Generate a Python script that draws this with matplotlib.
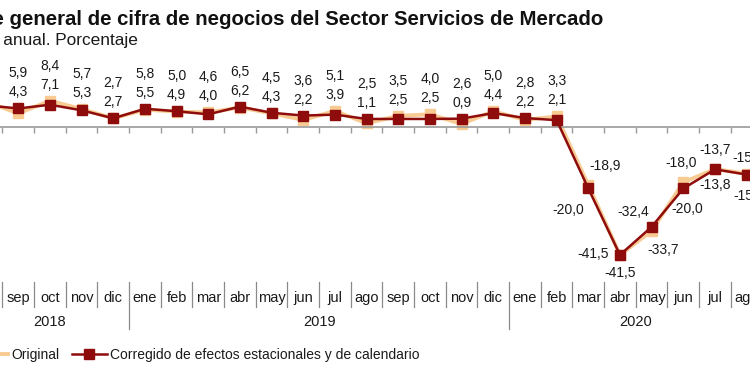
import numpy as np
import matplotlib
matplotlib.use("Agg")
import matplotlib.pyplot as plt
import matplotlib.transforms as mtransforms
from matplotlib.lines import Line2D

plt.rcParams['font.family'] = ['Liberation Sans', 'DejaVu Sans']

# ago 2018 .. ago 2020
months = ['ago', 'sep', 'oct', 'nov', 'dic',
          'ene', 'feb', 'mar', 'abr', 'may', 'jun', 'jul', 'ago', 'sep', 'oct', 'nov', 'dic',
          'ene', 'feb', 'mar', 'abr', 'may', 'jun', 'jul', 'ago']
years = [2018] * 5 + [2019] * 12 + [2020] * 8

original = [8.0, 4.3, 8.4, 5.7, 2.7,
            5.5, 4.9, 4.6, 6.2, 4.3, 2.2, 5.1, 1.1, 3.5, 4.0, 0.9, 5.0,
            2.2, 3.3, -18.9, -41.5, -33.7, -18.0, -13.7, -15.2]
corregido = [6.9, 5.9, 7.1, 5.3, 2.7,
             5.8, 5.0, 4.0, 6.5, 4.5, 3.6, 3.9, 2.5, 2.5, 2.5, 2.6, 4.4,
             2.8, 2.1, -20.0, -41.5, -32.4, -20.0, -13.8, -15.5]

C_RED = '#8E0C0C'
C_ORA = '#F8CB92'
TXT = '#1a1a1a'
W, H = 750, 375

fig = plt.figure(figsize=(7.5, 3.75), dpi=100)

# axes placed so that the series runs off both edges, like the cropped original
x_left, x_right = -29.2, 762.5      # pixel position of x = -0.5 and 24.5
y_top, y_bot = 89.6, 281.2          # pixel position of y = 12 and -50
ax = fig.add_axes([x_left / W, 1 - y_bot / H, (x_right - x_left) / W, (y_bot - y_top) / H])
ax.set_xlim(-0.5, len(months) - 0.5)
ax.set_ylim(-50, 12)

x = np.arange(len(months))
ax.plot(x, original, color=C_ORA, lw=2.8, marker='s', ms=7.5, mfc=C_ORA, mec=C_ORA,
        zorder=2, clip_on=False)
ax.plot(x, corregido, color=C_RED, lw=1.8, marker='s', ms=7, mfc=C_RED, mec=C_RED,
        zorder=3, clip_on=False)

for s in ['top', 'right', 'left']:
    ax.spines[s].set_visible(False)
ax.spines['bottom'].set_position(('data', 0))
ax.spines['bottom'].set_color('#9a9a9a')
ax.spines['bottom'].set_linewidth(1.2)
ax.set_xticks(np.arange(-0.5, len(months), 1.0))
ax.tick_params(axis='x', direction='out', length=4, width=1, color='#9a9a9a', labelbottom=False)
ax.set_yticks([])


def fmt(v):
    return f"{v:.1f}".replace('.', ',')


lbl = dict(fontsize=10, color=TXT, ha='center', va='center', textcoords='offset pixels',
           annotation_clip=False)

# stacked labels above the points, sep 2018 .. feb 2020 (ago 2018 lies off the picture)
for i in range(1, 19):
    hi = max(original[i], corregido[i])
    vals = sorted([original[i], corregido[i]])
    ax.annotate(fmt(vals[0]), (i, hi), xytext=(0, 16), **lbl)
    ax.annotate(fmt(vals[1]), (i, hi), xytext=(0, 35), **lbl)

# label offsets (pixels) for the 2020 drop: (original, corregido)
offsets = {
    19: ((17, 19), (-20, -22)),
    20: ((0, -18), (-27, 1)),
    21: ((12, -19), (-18, 15)),
    22: ((-2, 19), (4, -21)),
    23: ((0, 19), (0, -16)),
    24: ((2, 16), (2, -21)),
}
for i, (oo, oc) in offsets.items():
    ax.annotate(fmt(original[i]), (i, original[i]), xytext=oo, **lbl)
    ax.annotate(fmt(corregido[i]), (i, corregido[i]), xytext=oc, **lbl)

# month / year labels in the bottom band
tr = mtransforms.blended_transform_factory(ax.transData, fig.transFigure)


def fy(py):
    return 1 - py / H


for i, m in enumerate(months):
    ax.text(i, fy(298), m, transform=tr, ha='center', va='center', fontsize=10.5, color=TXT)
for i in range(1, len(months)):
    new_year = years[i] != years[i - 1]
    bottom = 329 if new_year else 307
    ax.plot([i - 0.5, i - 0.5], [fy(282), fy(bottom)], transform=tr, color='#8a8a8a',
            lw=0.9, clip_on=False)
for yr in sorted(set(years)):
    idx = [i for i, y in enumerate(years) if y == yr]
    ax.text(np.mean(idx), fy(322), str(yr), transform=tr, ha='center', va='center',
            fontsize=10.5, color=TXT)

fig.text(603 / W, fy(18), 'Índice general de cifra de negocios del Sector Servicios de Mercado',
         ha='right', va='center', fontsize=14.7, fontweight='bold', color='#111111')
fig.text(138 / W, fy(41), 'Tasa anual. Porcentaje', ha='right', va='center',
         fontsize=12.4, color=TXT)

handles = [Line2D([], [], color=C_ORA, lw=2.8),
           Line2D([], [], color=C_RED, lw=1.8, marker='s', ms=7, mfc=C_RED, mec=C_RED)]
fig.legend(handles, ['Original', 'Corregido de efectos estacionales y de calendario'],
           loc='center left', bbox_to_anchor=(-27 / W, fy(355)), ncol=2, frameon=False,
           fontsize=10, handlelength=2.5, handletextpad=0.25, columnspacing=0.9,
           borderpad=0, borderaxespad=0, labelcolor=TXT)

fig.savefig('out.png', dpi=100)
